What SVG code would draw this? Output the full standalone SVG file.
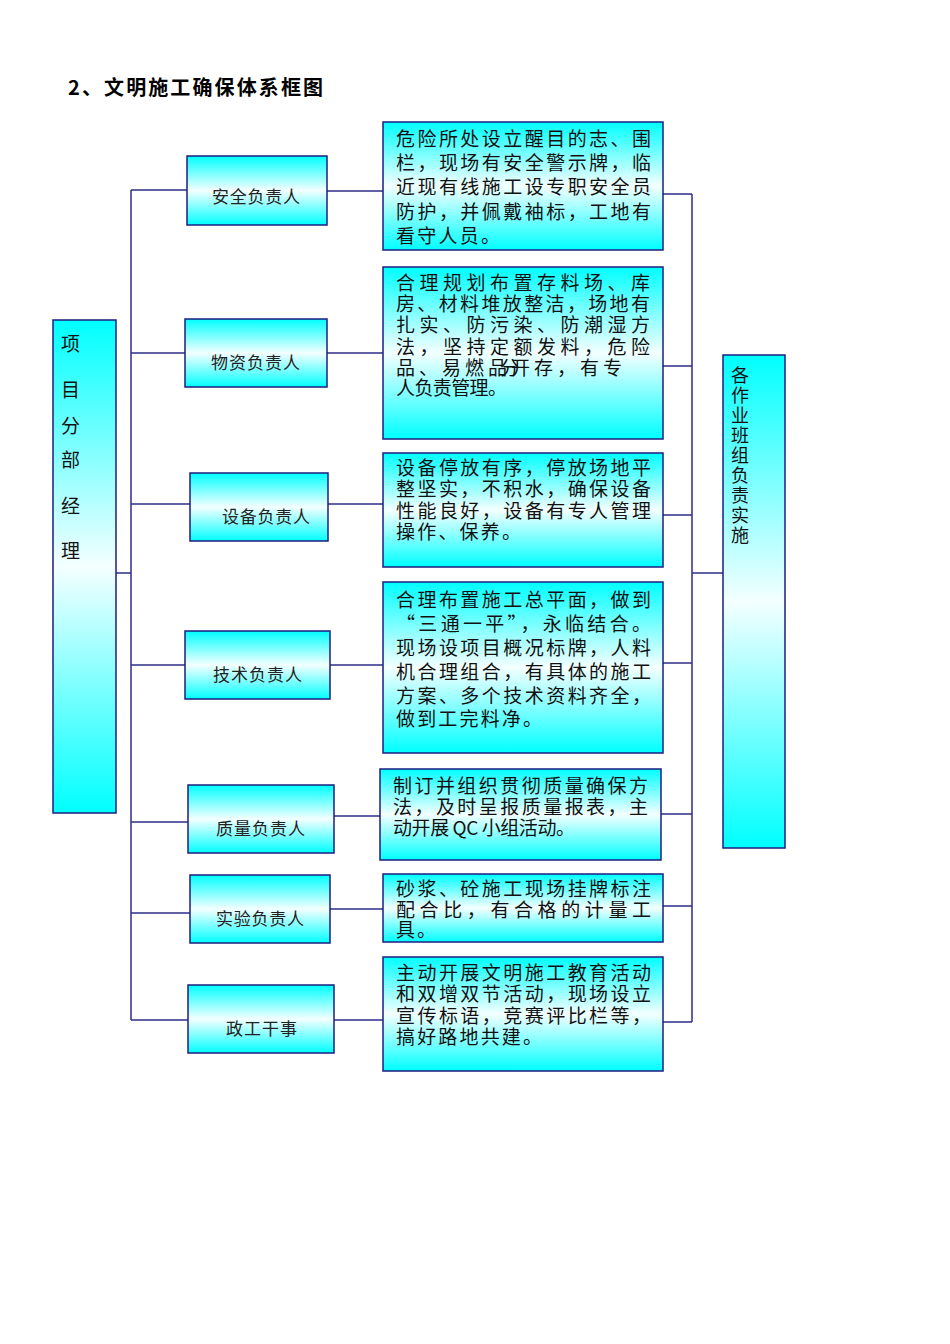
<svg xmlns="http://www.w3.org/2000/svg" width="950" height="1344" viewBox="0 0 950 1344">
<defs>
<linearGradient id="g" x1="0" y1="0" x2="0" y2="1">
<stop offset="0" stop-color="#00FFFF"/>
<stop offset="0.5" stop-color="#F4FFFF"/>
<stop offset="1" stop-color="#00FFFF"/>
</linearGradient>
</defs>
<style>
.box{fill:url(#g);stroke:#1E1E80;stroke-width:1.5}
.ln{stroke:#2E2E88;stroke-width:1.5;fill:none}
.t{font-family:"Noto Sans CJK SC","Noto Sans CJK JP",sans-serif;font-size:19px;fill:#111}
.n{font-family:"Noto Sans CJK SC","Noto Sans CJK JP",sans-serif;font-size:17px;fill:#222}
.title{font-family:"Noto Sans CJK SC","Noto Sans CJK JP",sans-serif;font-size:20px;font-weight:bold;fill:#000}
</style>
<rect width="950" height="1344" fill="#fff"/>
<text class="title" x="68" y="95" textLength="255" lengthAdjust="spacing">2、文明施工确保体系框图</text>

<g id="connectors">
<path class="ln" d="M131 190V1020M116 573H131M131 190H187M131 353H185M131 504H190M131 665H185M131 822H193M131 913H193M131 1020H188"/>
<path class="ln" d="M327 191H383M327 353H383M328 504H383M330 665H383M330 816H380M330 909H383M334 1020H383"/>
<path class="ln" d="M692 194V1022M663 194H692M663 366H692M663 515H692M663 663H692M661 814H692M663 906H692M663 1022H692M692 573H723"/>
</g>

<g id="manager">
<rect class="box" x="53" y="320" width="63" height="493"/>
<text class="t" x="61" y="351">项</text>
<text class="t" x="61" y="397">目</text>
<text class="t" x="61" y="433">分</text>
<text class="t" x="61" y="467">部</text>
<text class="t" x="61" y="513">经</text>
<text class="t" x="61" y="558">理</text>
</g>

<g id="teams">
<rect class="box" x="723" y="355" width="62" height="493"/>
<g class="t" style="font-size:18px">
<text x="731" y="382">各</text>
<text x="731" y="402">作</text>
<text x="731" y="422">业</text>
<text x="731" y="442">班</text>
<text x="731" y="462">组</text>
<text x="731" y="482">负</text>
<text x="731" y="502">责</text>
<text x="731" y="522">实</text>
<text x="731" y="542">施</text>
</g>
</g>

<g id="n1"><rect class="box" x="187" y="156" width="140" height="69"/><text class="n" x="212" y="203" textLength="88" lengthAdjust="spacing">安全负责人</text></g>
<g id="n2"><rect class="box" x="185" y="319" width="142" height="68"/><text class="n" x="211" y="369" textLength="89" lengthAdjust="spacing">物资负责人</text></g>
<g id="n3"><rect class="box" x="190" y="473" width="138" height="68"/><text class="n" x="222" y="523" textLength="88" lengthAdjust="spacing">设备负责人</text></g>
<g id="n4"><rect class="box" x="185" y="631" width="145" height="68"/><text class="n" x="213" y="681" textLength="89" lengthAdjust="spacing">技术负责人</text></g>
<g id="n5"><rect class="box" x="188" y="785" width="146" height="68"/><text class="n" x="216" y="835" textLength="89" lengthAdjust="spacing">质量负责人</text></g>
<g id="n6"><rect class="box" x="190" y="875" width="140" height="68"/><text class="n" x="216" y="925" textLength="88" lengthAdjust="spacing">实验负责人</text></g>
<g id="n7"><rect class="box" x="188" y="985" width="146" height="68"/><text class="n" x="226" y="1035" textLength="71" lengthAdjust="spacing">政工干事</text></g>

<g id="d1"><rect class="box" x="383" y="122" width="280" height="128"/>
<text class="t" x="396" y="146" textLength="255" lengthAdjust="spacing">危险所处设立醒目的志、围</text>
<text class="t" x="396" y="170" textLength="255" lengthAdjust="spacing">栏，现场有安全警示牌，临</text>
<text class="t" x="396" y="194" textLength="255" lengthAdjust="spacing">近现有线施工设专职安全员</text>
<text class="t" x="396" y="219" textLength="255" lengthAdjust="spacing">防护，并佩戴袖标，工地有</text>
<text class="t" x="396" y="243" textLength="104" lengthAdjust="spacing">看守人员。</text>
</g>

<g id="d2"><rect class="box" x="383" y="267" width="280" height="172"/>
<text class="t" x="396" y="290" textLength="254" lengthAdjust="spacing">合理规划布置存料场、库</text>
<text class="t" x="396" y="311" textLength="254" lengthAdjust="spacing">房、材料堆放整洁，场地有</text>
<text class="t" x="396" y="332" textLength="254" lengthAdjust="spacing">扎实、防污染、防潮湿方</text>
<text class="t" x="396" y="354" textLength="254" lengthAdjust="spacing">法，坚持定额发料，危险</text>
<text class="t" x="396" y="375" textLength="226" lengthAdjust="spacing">品、易燃品开存，有专</text>
<text class="t" x="500" y="375">分</text>
<text class="t" x="396" y="395" textLength="111" lengthAdjust="spacing">人负责管理。</text>
</g>

<g id="d3"><rect class="box" x="383" y="453" width="280" height="114"/>
<text class="t" x="396" y="475" textLength="255" lengthAdjust="spacing">设备停放有序，停放场地平</text>
<text class="t" x="396" y="496" textLength="255" lengthAdjust="spacing">整坚实，不积水，确保设备</text>
<text class="t" x="396" y="518" textLength="255" lengthAdjust="spacing">性能良好，设备有专人管理</text>
<text class="t" x="396" y="539" textLength="125" lengthAdjust="spacing">操作、保养。</text>
</g>

<g id="d4"><rect class="box" x="383" y="582" width="280" height="171"/>
<text class="t" x="396" y="607" textLength="255" lengthAdjust="spacing">合理布置施工总平面，做到</text>
<text class="t" x="396" y="631" textLength="255" lengthAdjust="spacing">“三通一平”，永临结合。</text>
<text class="t" x="396" y="655" textLength="255" lengthAdjust="spacing">现场设项目概况标牌，人料</text>
<text class="t" x="396" y="679" textLength="255" lengthAdjust="spacing">机合理组合，有具体的施工</text>
<text class="t" x="396" y="703" textLength="255" lengthAdjust="spacing">方案、多个技术资料齐全，</text>
<text class="t" x="396" y="726" textLength="146" lengthAdjust="spacing">做到工完料净。</text>
</g>

<g id="d5"><rect class="box" x="380" y="769" width="281" height="91"/>
<text class="t" x="393" y="793" textLength="255" lengthAdjust="spacing">制订并组织贯彻质量确保方</text>
<text class="t" x="393" y="814" textLength="255" lengthAdjust="spacing">法，及时呈报质量报表，主</text>
<text class="t" x="393" y="835" textLength="182" lengthAdjust="spacing">动开展 QC 小组活动。</text>
</g>

<g id="d6"><rect class="box" x="383" y="874" width="280" height="68"/>
<text class="t" x="396" y="896" textLength="255" lengthAdjust="spacing">砂浆、砼施工现场挂牌标注</text>
<text class="t" x="396" y="917" textLength="255" lengthAdjust="spacing">配合比，有合格的计量工</text>
<text class="t" x="396" y="937" textLength="40" lengthAdjust="spacing">具。</text>
</g>

<g id="d7"><rect class="box" x="383" y="957" width="280" height="114"/>
<text class="t" x="396" y="980" textLength="255" lengthAdjust="spacing">主动开展文明施工教育活动</text>
<text class="t" x="396" y="1001" textLength="255" lengthAdjust="spacing">和双增双节活动，现场设立</text>
<text class="t" x="396" y="1023" textLength="255" lengthAdjust="spacing">宣传标语，竞赛评比栏等，</text>
<text class="t" x="396" y="1044" textLength="146" lengthAdjust="spacing">搞好路地共建。</text>
</g>
</svg>
